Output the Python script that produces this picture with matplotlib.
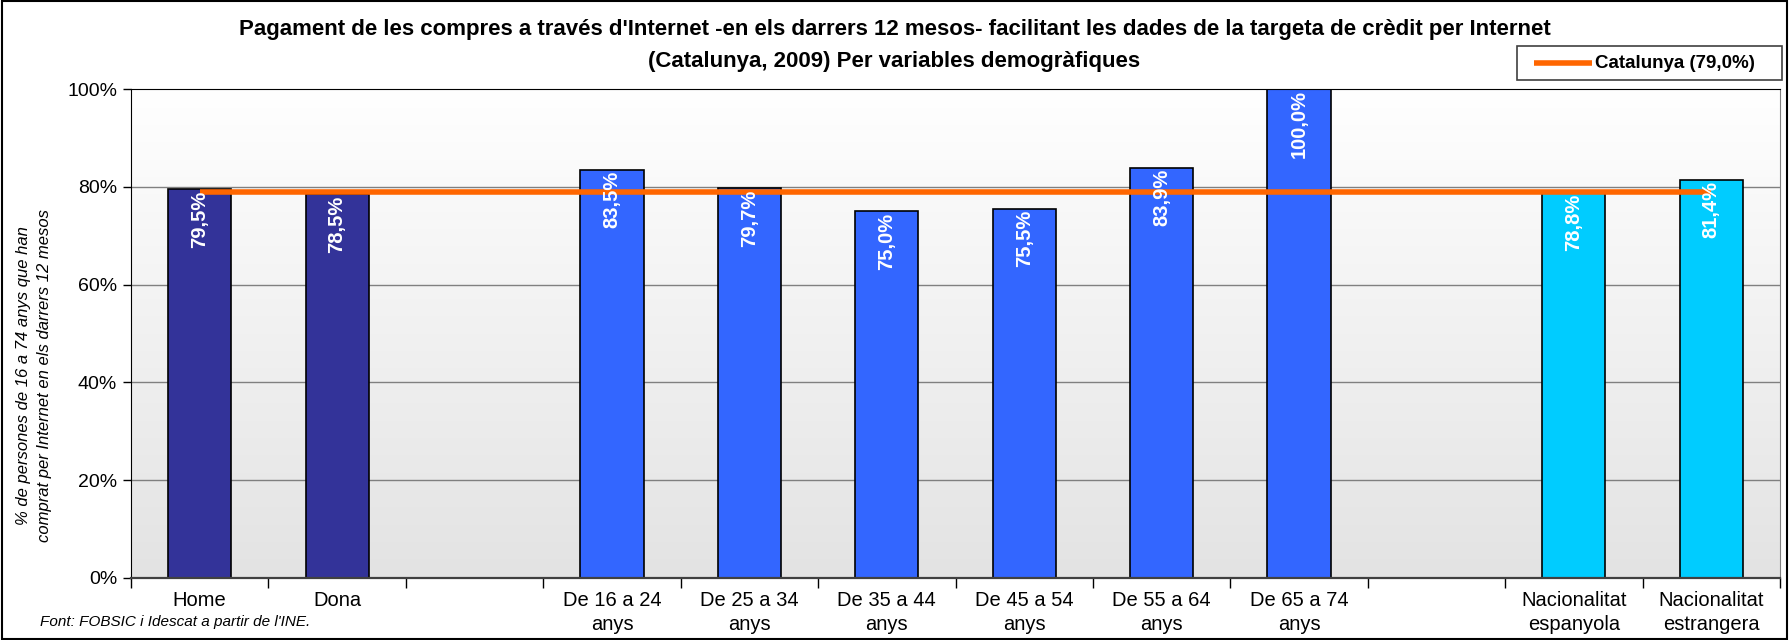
import numpy as np
import matplotlib
matplotlib.use("Agg")
import matplotlib.pyplot as plt
from matplotlib.lines import Line2D
from matplotlib.patches import Rectangle

plt.rcParams['font.family'] = ['Liberation Sans', 'DejaVu Sans']

# Category slots (empty strings are spacer slots between groups)
categories = ["Home", "Dona", "", "De 16 a 24\nanys", "De 25 a 34\nanys", "De 35 a 44\nanys",
              "De 45 a 54\nanys", "De 55 a 64\nanys", "De 65 a 74\nanys", "",
              "Nacionalitat\nespanyola", "Nacionalitat\nestrangera"]
values = [79.5, 78.5, None, 83.5, 79.7, 75.0, 75.5, 83.9, 100.0, None, 78.8, 81.4]
groups = ["sexe", "sexe", None, "edat", "edat", "edat", "edat", "edat", "edat", None,
          "nac", "nac"]
catalunya = 79.0
y_ticks = [0, 20, 40, 60, 80, 100]

group_colors = {"sexe": "#333399", "edat": "#3366FF", "nac": "#00CCFF"}

title_lines = ["Pagament de les compres a través d'Internet -en els darrers 12 mesos- facilitant "
               "les dades de la targeta de crèdit per Internet",
               "(Catalunya, 2009) Per variables demogràfiques"]
ylabel = "% de persones de 16 a 74 anys que han\ncomprat per Internet en els darrers 12 mesos"
source = "Font: FOBSIC i Idescat a partir de l'INE."
legend_label = "Catalunya (79,0%)"

W, H = 1789, 640


def fmt(v):
    return f"{v:.1f}%".replace(".", ",")


def fx(px):
    return px / W


def fy(py):
    return 1 - py / H


fig = plt.figure(figsize=(W / 100, H / 100), dpi=100)
ax = fig.add_axes([fx(131), fy(578), fx(1780 - 131), (578 - 89) / H])

n = len(categories)
x = np.arange(n)
ax.set_xlim(-0.5, n - 0.5)
ax.set_ylim(0, 100)

# vertical gradient background: white at top, light grey at bottom
grad = np.linspace(0, 1, 256).reshape(-1, 1)
cmap = matplotlib.colors.LinearSegmentedColormap.from_list("bg", ["#E3E3E3", "#FFFFFF"])
ax.imshow(grad, aspect="auto", cmap=cmap, origin="lower",
          extent=[-0.5, n - 0.5, 0, 100], zorder=0)

for yt in y_ticks[1:-1]:
    ax.axhline(yt, color="#808080", lw=1.0, zorder=1)

bx = [i for i, v in enumerate(values) if v is not None]
bv = [values[i] for i in bx]
bc = [group_colors[groups[i]] for i in bx]
ax.bar(bx, bv, width=0.46, color=bc, edgecolor="black", linewidth=1.2, zorder=2)

# Catalunya reference line from the first to the last bar
ax.plot([bx[0], bx[-1]], [catalunya, catalunya], color="#FF6600", lw=4, zorder=3,
        solid_capstyle="butt")

for i, v in zip(bx, bv):
    ax.annotate(fmt(v), (i, v), xytext=(0, -1), textcoords="offset points",
                rotation=90, ha="center", va="top", color="white",
                fontsize=14.5, fontweight="bold", zorder=4)

ax.set_yticks(y_ticks)
ax.set_yticklabels([f"{t}%" for t in y_ticks], fontsize=14)
ax.tick_params(axis="y", direction="out", length=6, width=1, pad=4)

# tick marks between categories, labels at category centres
ax.set_xticks(np.arange(-0.5, n, 1.0))
ax.set_xticklabels([])
ax.tick_params(axis="x", which="major", direction="out", length=7, width=1)
ax.set_xticks(x, minor=True)
ax.set_xticklabels(categories, minor=True, fontsize=14.5, linespacing=1.4)
ax.tick_params(axis="x", which="minor", length=0, pad=9)

ax.spines["left"].set_color("black")
ax.spines["top"].set_color("black")
ax.spines["right"].set_color("#808080")
ax.spines["bottom"].set_color("#404040")
ax.spines["bottom"].set_linewidth(1.6)

fig.text(fx(34), fy(376), ylabel, rotation=90, ha="center", va="center",
         fontsize=12, style="italic", linespacing=1.5)

fig.text(0.5, fy(29), title_lines[0], ha="center", va="center",
         fontsize=16, fontweight="bold")
fig.text(0.5, fy(61), title_lines[1], ha="center", va="center",
         fontsize=16, fontweight="bold")
fig.text(fx(40), fy(622), source, ha="left", va="center", fontsize=11, style="italic")

# legend box with the reference line sample
fig.add_artist(Rectangle((fx(1517), fy(80)), fx(1782 - 1517), (80 - 46) / H,
                         transform=fig.transFigure, facecolor="white",
                         edgecolor="#404040", lw=1.2))
fig.add_artist(Line2D([fx(1534), fx(1592)], [fy(63), fy(63)], transform=fig.transFigure,
                      color="#FF6600", lw=4, solid_capstyle="butt"))
fig.text(fx(1595), fy(63), legend_label, ha="left", va="center", fontsize=13.5,
         fontweight="bold")

fig.add_artist(Rectangle((0.001, 0.002), 0.998, 0.996, transform=fig.transFigure,
                         fill=False, edgecolor="black", lw=1.5))

fig.savefig("out.png", dpi=100)
